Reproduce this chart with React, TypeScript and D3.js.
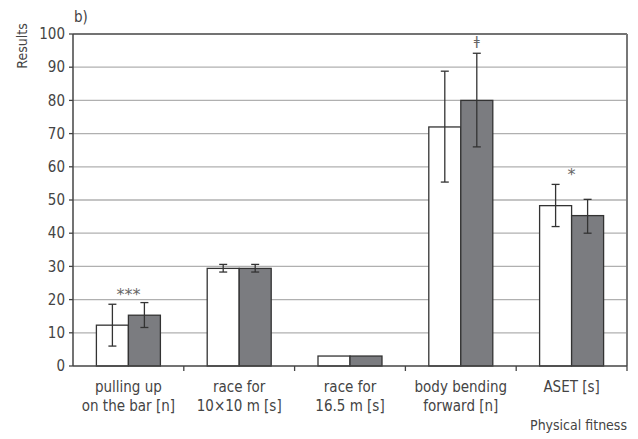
import * as d3 from "d3";

const categories = [
  ["pulling up", "on the bar [n]"],
  ["race for", "10\u00d710 m [s]"],
  ["race for", "16.5 m [s]"],
  ["body bending", "forward [n]"],
  ["ASET [s]"],
];
const whiteValues = [12.3, 29.4, 3, 72, 48.3];
const whiteLow = [6, 28.3, null, 55.4, 42];
const whiteHigh = [18.6, 30.6, null, 88.8, 54.7];
const grayValues = [15.3, 29.4, 3, 80, 45.3];
const grayLow = [11.6, 28.3, null, 66, 40];
const grayHigh = [19.1, 30.6, null, 94.2, 50.2];
const marks = ["***", "", "", "\u01c2", "*"];
const yTicks = [0, 10, 20, 30, 40, 50, 60, 70, 80, 90, 100];

const font = "'Liberation Sans Narrow', 'DejaVu Sans Condensed', sans-serif";

export default function App() {
  const width = 638;
  const height = 439;
  const margin = { top: 34, right: 11, bottom: 73, left: 73 };

  const x = d3.scaleBand<number>()
    .domain(categories.map((_, i) => i))
    .range([margin.left, width - margin.right]);

  const y = d3.scaleLinear()
    .domain([0, 100])
    .range([height - margin.bottom, margin.top]);

  const barW = 32;
  const off = (x.bandwidth() - 2 * barW) / 2;

  const errBar = (cx: number, lo: number | null, hi: number | null, color: string, key: string) => {
    if (lo == null || hi == null) return null;
    return (
      <g key={key} stroke={color} strokeWidth={1.3}>
        <line x1={cx} x2={cx} y1={y(lo)} y2={y(hi)} />
        <line x1={cx - 4} x2={cx + 4} y1={y(lo)} y2={y(lo)} />
        <line x1={cx - 4} x2={cx + 4} y1={y(hi)} y2={y(hi)} />
      </g>
    );
  };

  return (
    <svg width={width} height={height} style={{ position: "absolute", left: 0, top: 0 }} fontFamily={font}>
      <rect width={width} height={height} fill="#fff" />

      {/* grid */}
      {yTicks.filter(t => t > 0 && t < 100).map(t => (
        <line key={t} x1={margin.left} x2={width - margin.right} y1={y(t)} y2={y(t)} stroke="#b0b0b0" strokeWidth={1.3} />
      ))}
      <line x1={margin.left} x2={width - margin.right} y1={y(100)} y2={y(100)} stroke="#444" strokeWidth={1.3} />
      <line x1={width - margin.right} x2={width - margin.right} y1={y(100)} y2={y(0)} stroke="#777" strokeWidth={2} />

      {/* bars */}
      {categories.map((_, i) => {
        const x0 = (x(i) as number) + off;
        return (
          <g key={i}>
            <rect x={x0} y={y(whiteValues[i])} width={barW} height={y(0) - y(whiteValues[i])} fill="#fff" stroke="#333" strokeWidth={1.3} />
            <rect x={x0 + barW} y={y(grayValues[i])} width={barW} height={y(0) - y(grayValues[i])} fill="#7b7c80" stroke="#333" strokeWidth={1.3} />
            {errBar(x0 + barW / 2, whiteLow[i], whiteHigh[i], "#333", "w" + i)}
            {errBar(x0 + barW * 1.5, grayLow[i], grayHigh[i], "#333", "g" + i)}
          </g>
        );
      })}

      {/* significance marks */}
      {marks.map((m, i) => {
        if (!m) return null;
        const top = Math.max(whiteHigh[i] ?? 0, grayHigh[i] ?? 0);
        let cx = (x(i) as number) + x.bandwidth() / 2;
        let yy = y(top) - 8;
        if (i === 3) { cx = (x(i) as number) + off + barW * 1.5; yy = y(grayHigh[i] as number) - 8; }
        if (i === 4) { cx = (x(i) as number) + off + barW; yy = y(whiteHigh[i] as number) - 4; }
        if (i === 0) { yy = y(top) - 3; }
        return (
          <text key={i} x={cx} y={yy} textAnchor="middle" fontSize={i === 3 ? 13 : 16} fill="#666" fontFamily="'DejaVu Sans', sans-serif">{m}</text>
        );
      })}

      {/* axes */}
      <line x1={margin.left} x2={margin.left} y1={y(100)} y2={y(0)} stroke="#444" strokeWidth={1.5} />
      <line x1={margin.left} x2={width - margin.right} y1={y(0)} y2={y(0)} stroke="#444" strokeWidth={1.5} />
      {yTicks.map(t => (
        <g key={t}>
          <line x1={margin.left - 4} x2={margin.left} y1={y(t)} y2={y(t)} stroke="#444" strokeWidth={1.3} />
          <text x={margin.left - 8} y={y(t)} dy="0.35em" textAnchor="end" fontSize={15} fill="#444">{t}</text>
        </g>
      ))}
      {categories.map((_, i) => (
        <line key={i} x1={(x(i) as number) + x.bandwidth()} x2={(x(i) as number) + x.bandwidth()} y1={y(0)} y2={y(0) + 5} stroke="#444" strokeWidth={1.3} />
      ))}
      {categories.map((lines, i) => (
        <text key={i} x={(x(i) as number) + x.bandwidth() / 2} y={y(0) + 26} textAnchor="middle" fontSize={15} fill="#444">
          {lines.map((l, j) => (
            <tspan key={j} x={(x(i) as number) + x.bandwidth() / 2} dy={j === 0 ? 0 : 19}>{l}</tspan>
          ))}
        </text>
      ))}

      <text transform="translate(27,46) rotate(-90)" textAnchor="middle" fontSize={14} fill="#444">Results</text>
      <text x={74} y={22} fontSize={15} fill="#444">b)</text>
      <text x={width - margin.right} y={430} textAnchor="end" fontSize={14} fill="#444">Physical fitness</text>
    </svg>
  );
}
